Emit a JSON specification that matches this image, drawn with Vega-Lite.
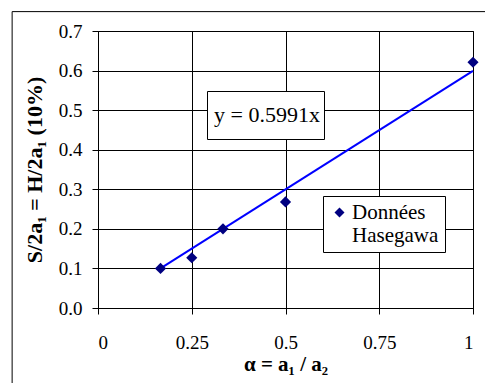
{
  "$schema": "https://vega.github.io/schema/vega-lite/v6.json",
  "width": 375,
  "height": 277,
  "autosize": "none",
  "padding": {"left": 98, "top": 31, "right": 12, "bottom": 75},
  "background": "white",
  "datasets": {
    "pts": [
      {"alpha": 0.1667, "ratio": 0.1, "serie": "Données Hasegawa"},
      {"alpha": 0.25, "ratio": 0.127, "serie": "Données Hasegawa"},
      {"alpha": 0.3333, "ratio": 0.2, "serie": "Données Hasegawa"},
      {"alpha": 0.5, "ratio": 0.268, "serie": "Données Hasegawa"},
      {"alpha": 1.0, "ratio": 0.621, "serie": "Données Hasegawa"}
    ],
    "fit": [
      {"alpha": 0.1667, "ratio": 0.0999, "fit": "y = 0.5991x"},
      {"alpha": 1.0, "ratio": 0.5991, "fit": "y = 0.5991x"}
    ],
    "frame": [{"name": "frame"}]
  },
  "config": {
    "font": "Liberation Serif",
    "view": {"stroke": "black", "strokeWidth": 1},
    "legend": {
      "orient": "none",
      "title": null,
      "labelFont": "Liberation Serif",
      "labelColor": "black",
      "strokeColor": "black",
      "fillColor": "white"
    }
  },
  "resolve": {"scale": {"x": "independent", "y": "independent"}},
  "layer": [
    {
      "data": {"name": "frame"},
      "mark": {"type": "rect", "fill": null, "stroke": "black", "strokeWidth": 1, "clip": false},
      "encoding": {
        "x": {"datum": -0.229, "type": "quantitative", "scale": {"domain": [0, 1], "nice": false, "zero": false}, "axis": null},
        "x2": {"datum": 1.2},
        "y": {"datum": 0.749, "type": "quantitative", "scale": {"domain": [0, 0.7], "nice": false, "zero": false}, "axis": null},
        "y2": {"datum": -0.3}
      }
    },
    {
      "encoding": {
        "x": {"field": "alpha", "type": "quantitative", "scale": {"domain": [0, 1], "nice": false, "zero": false},
          "axis": {"values": [0, 0.25, 0.5, 0.75, 1], "labelExpr": "datum.value", "title": "α = a₁ / a₂",
            "grid": true, "gridColor": "black", "gridOpacity": 1, "domainColor": "black", "tickColor": "black", "tickSize": 6,
            "labelFont": "Liberation Serif", "labelFontSize": 19, "labelColor": "black", "labelPadding": 19,
            "titleFont": "Liberation Serif", "titleFontSize": 21, "titleFontWeight": "bold", "titleColor": "black", "titlePadding": 1}},
        "y": {"field": "ratio", "type": "quantitative", "scale": {"domain": [0, 0.7], "nice": false, "zero": false},
          "axis": {"values": [0, 0.1, 0.2, 0.3, 0.4, 0.5, 0.6, 0.7], "format": ".1f", "title": "S/2a₁ = H/2a₁ (10%)", "labelOverlap": false,
            "grid": true, "gridColor": "black", "gridOpacity": 1, "domainColor": "black", "tickColor": "black", "tickSize": 6,
            "labelFont": "Liberation Serif", "labelFontSize": 19, "labelColor": "black", "labelPadding": 10,
            "titleFont": "Liberation Serif", "titleFontSize": 22, "titleFontWeight": "bold", "titleColor": "black", "titlePadding": 12}}
      },
      "layer": [
        {
          "data": {"name": "fit"},
          "mark": {"type": "line", "strokeWidth": 2},
          "encoding": {
            "stroke": {"field": "fit", "type": "nominal", "scale": {"domain": ["y = 0.5991x"], "range": ["#0000FF"]},
              "legend": {"legendX": 109, "legendY": 60, "symbolType": "square", "symbolSize": 1600, "symbolStrokeWidth": 0, "symbolOpacity": 0, "labelOffset": -37, "padding": 4, "labelFontSize": 22}}
          }
        },
        {
          "data": {"name": "pts"},
          "mark": {"type": "point", "shape": "diamond", "filled": true, "size": 125, "opacity": 1},
          "encoding": {
            "color": {"field": "serie", "type": "nominal", "scale": {"domain": ["Données Hasegawa"], "range": ["#000080"]},
              "legend": {"legendX": 225, "legendY": 165, "symbolType": "diamond", "symbolSize": 100, "symbolOpacity": 1, "symbolFillColor": "#000080", "labelExpr": "split(datum.label, ' ')", "padding": 6, "labelOffset": 2, "labelFontSize": 21}}
          }
        }
      ]
    }
  ]
}
